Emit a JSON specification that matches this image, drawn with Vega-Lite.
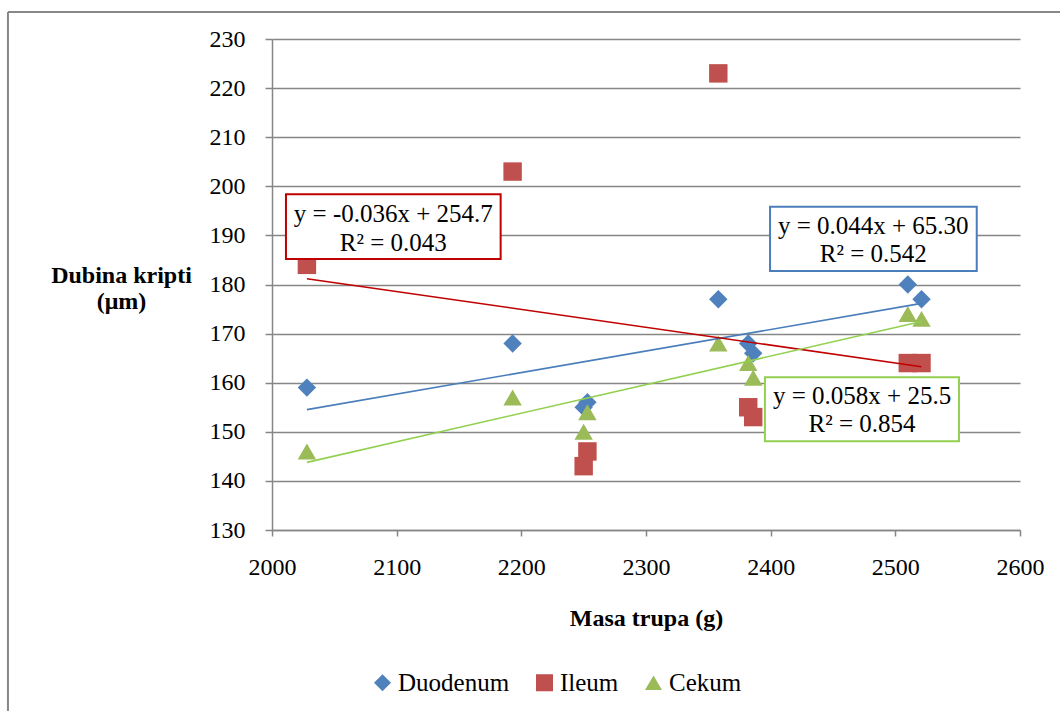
{
  "$schema": "https://vega.github.io/schema/vega-lite/v6.json",
  "width": 748,
  "height": 491,
  "autosize": {"type": "none"},
  "padding": {"left": 272, "top": 39, "right": 40, "bottom": 181},
  "background": "white",
  "config": {
    "view": {"stroke": null},
    "font": "Liberation Serif",
    "axis": {
      "labelFont": "Liberation Serif",
      "labelFontSize": 24,
      "labelColor": "#000000",
      "titleFont": "Liberation Serif",
      "titleFontSize": 24,
      "titleFontWeight": "bold",
      "titleColor": "#000000",
      "domainColor": "#868686",
      "domainWidth": 1.5,
      "tickColor": "#868686",
      "tickWidth": 1.5,
      "tickSize": 7,
      "gridColor": "#868686",
      "gridWidth": 1.3,
      "labelFlush": false,
      "labelOverlap": false
    },
    "legend": {
      "orient": "none",
      "legendX": 98,
      "legendY": 631,
      "direction": "horizontal",
      "labelFont": "Liberation Serif",
      "labelFontSize": 25,
      "labelColor": "#000000",
      "symbolSize": 290,
      "symbolStrokeWidth": 0,
      "labelOffset": 3,
      "columnPadding": 22,
      "padding": 0
    }
  },
  "data": {
    "values": [
      {"segment": "Duodenum", "masa": 2028, "dubina": 159},
      {"segment": "Duodenum", "masa": 2193, "dubina": 168},
      {"segment": "Duodenum", "masa": 2250, "dubina": 155},
      {"segment": "Duodenum", "masa": 2253, "dubina": 156},
      {"segment": "Duodenum", "masa": 2358, "dubina": 177},
      {"segment": "Duodenum", "masa": 2382, "dubina": 168},
      {"segment": "Duodenum", "masa": 2386, "dubina": 166},
      {"segment": "Duodenum", "masa": 2510, "dubina": 180},
      {"segment": "Duodenum", "masa": 2521, "dubina": 177},
      {"segment": "Ileum", "masa": 2028, "dubina": 184},
      {"segment": "Ileum", "masa": 2193, "dubina": 203},
      {"segment": "Ileum", "masa": 2250, "dubina": 143},
      {"segment": "Ileum", "masa": 2253, "dubina": 146},
      {"segment": "Ileum", "masa": 2358, "dubina": 223},
      {"segment": "Ileum", "masa": 2382, "dubina": 155},
      {"segment": "Ileum", "masa": 2386, "dubina": 153},
      {"segment": "Ileum", "masa": 2510, "dubina": 164},
      {"segment": "Ileum", "masa": 2521, "dubina": 164},
      {"segment": "Cekum", "masa": 2028, "dubina": 146},
      {"segment": "Cekum", "masa": 2193, "dubina": 157},
      {"segment": "Cekum", "masa": 2250, "dubina": 150},
      {"segment": "Cekum", "masa": 2253, "dubina": 154},
      {"segment": "Cekum", "masa": 2358, "dubina": 168},
      {"segment": "Cekum", "masa": 2382, "dubina": 164},
      {"segment": "Cekum", "masa": 2386, "dubina": 161},
      {"segment": "Cekum", "masa": 2510, "dubina": 174},
      {"segment": "Cekum", "masa": 2521, "dubina": 173}
    ]
  },
  "layer": [
    {
      "data": {"values": [{"frame": "top"}]},
      "mark": {"type": "rule", "color": "#878787", "strokeWidth": 2},
      "encoding": {
        "x": {"datum": 1788.2, "type": "quantitative"},
        "x2": {"datum": 2660},
        "y": {"datum": 235.5, "type": "quantitative"}
      }
    },
    {
      "data": {"values": [{"frame": "left"}]},
      "mark": {"type": "rule", "color": "#878787", "strokeWidth": 2},
      "encoding": {
        "x": {"datum": 1788.2, "type": "quantitative"},
        "y": {"datum": 235.5, "type": "quantitative"},
        "y2": {"datum": 90}
      }
    },
    {
      "mark": {"type": "point", "filled": true, "opacity": 1, "size": 340, "strokeWidth": 0},
      "encoding": {
        "x": {
          "field": "masa",
          "type": "quantitative",
          "scale": {"domain": [2000, 2600], "nice": false, "zero": false},
          "axis": {
            "title": "Masa trupa (g)",
            "values": [2000, 2100, 2200, 2300, 2400, 2500, 2600],
            "format": "d",
            "grid": false,
            "tickSize": 6,
            "labelPadding": 19,
            "titleY": 95,
            "titleBaseline": "alphabetic"
          }
        },
        "y": {
          "field": "dubina",
          "type": "quantitative",
          "scale": {"domain": [130, 230], "nice": false, "zero": false},
          "axis": {
            "title": ["Dubina kripti", "(μm)"],
            "values": [130, 140, 150, 160, 170, 180, 190, 200, 210, 220, 230],
            "format": "d",
            "grid": true,
            "labelPadding": 20,
            "titleAngle": 0,
            "titleX": -151,
            "titleY": 243,
            "titleAlign": "center",
            "titleBaseline": "alphabetic",
            "titleLineHeight": 26
          }
        },
        "color": {
          "field": "segment",
          "type": "nominal",
          "scale": {"domain": ["Duodenum", "Ileum", "Cekum"], "range": ["#4F81BD", "#C0504D", "#9BBB59"]},
          "legend": {"title": null}
        },
        "shape": {
          "field": "segment",
          "type": "nominal",
          "scale": {"domain": ["Duodenum", "Ileum", "Cekum"], "range": ["diamond", "square", "triangle-up"]},
          "legend": {"title": null}
        }
      }
    },
    {
      "transform": [
        {"filter": "datum.segment === 'Duodenum'"},
        {"regression": "dubina", "on": "masa"}
      ],
      "mark": {"type": "line", "color": "#4A7EBB", "strokeWidth": 1.6},
      "encoding": {
        "x": {"field": "masa", "type": "quantitative"},
        "y": {"field": "dubina", "type": "quantitative"}
      }
    },
    {
      "transform": [
        {"filter": "datum.segment === 'Ileum'"},
        {"regression": "dubina", "on": "masa"}
      ],
      "mark": {"type": "line", "color": "#C00000", "strokeWidth": 1.6},
      "encoding": {
        "x": {"field": "masa", "type": "quantitative"},
        "y": {"field": "dubina", "type": "quantitative"}
      }
    },
    {
      "transform": [
        {"filter": "datum.segment === 'Cekum'"},
        {"regression": "dubina", "on": "masa"}
      ],
      "mark": {"type": "line", "color": "#92D050", "strokeWidth": 1.6},
      "encoding": {
        "x": {"field": "masa", "type": "quantitative"},
        "y": {"field": "dubina", "type": "quantitative"}
      }
    },
    {
      "data": {"values": [{"box": "Ileum"}]},
      "mark": {"type": "rect", "fill": "white", "stroke": "#C00000", "strokeWidth": 2},
      "encoding": {
        "x": {"datum": 2011.2, "type": "quantitative"},
        "x2": {"datum": 2183.4},
        "y": {"datum": 198.4, "type": "quantitative"},
        "y2": {"datum": 185.2}
      }
    },
    {
      "data": {"values": [{"box": "Duodenum"}]},
      "mark": {"type": "rect", "fill": "white", "stroke": "#4A7EBB", "strokeWidth": 2},
      "encoding": {
        "x": {"datum": 2399.5, "type": "quantitative"},
        "x2": {"datum": 2565.3},
        "y": {"datum": 195.85, "type": "quantitative"},
        "y2": {"datum": 182.75}
      }
    },
    {
      "data": {"values": [{"box": "Cekum"}]},
      "mark": {"type": "rect", "fill": "white", "stroke": "#92D050", "strokeWidth": 2},
      "encoding": {
        "x": {"datum": 2395.4, "type": "quantitative"},
        "x2": {"datum": 2551.1},
        "y": {"datum": 161.1, "type": "quantitative"},
        "y2": {"datum": 148.1}
      }
    },
    {
      "data": {"values": [{"eq": "Ileum"}]},
      "mark": {"type": "text", "text": ["y = -0.036x + 254.7", "R² = 0.043"], "font": "Liberation Serif", "fontSize": 25, "lineHeight": 28.5, "align": "center", "baseline": "middle", "fill": "#000000"},
      "encoding": {"x": {"datum": 2097.3, "type": "quantitative"}, "y": {"datum": 194.3, "type": "quantitative"}}
    },
    {
      "data": {"values": [{"eq": "Duodenum"}]},
      "mark": {"type": "text", "text": ["y = 0.044x + 65.30", "R² = 0.542"], "font": "Liberation Serif", "fontSize": 25, "lineHeight": 27.5, "align": "center", "baseline": "middle", "fill": "#000000"},
      "encoding": {"x": {"datum": 2482.3, "type": "quantitative"}, "y": {"datum": 191.85, "type": "quantitative"}}
    },
    {
      "data": {"values": [{"eq": "Cekum"}]},
      "mark": {"type": "text", "text": ["y = 0.058x + 25.5", "R² = 0.854"], "font": "Liberation Serif", "fontSize": 25, "lineHeight": 28, "align": "center", "baseline": "middle", "fill": "#000000"},
      "encoding": {"x": {"datum": 2473.3, "type": "quantitative"}, "y": {"datum": 157.3, "type": "quantitative"}}
    }
  ]
}
